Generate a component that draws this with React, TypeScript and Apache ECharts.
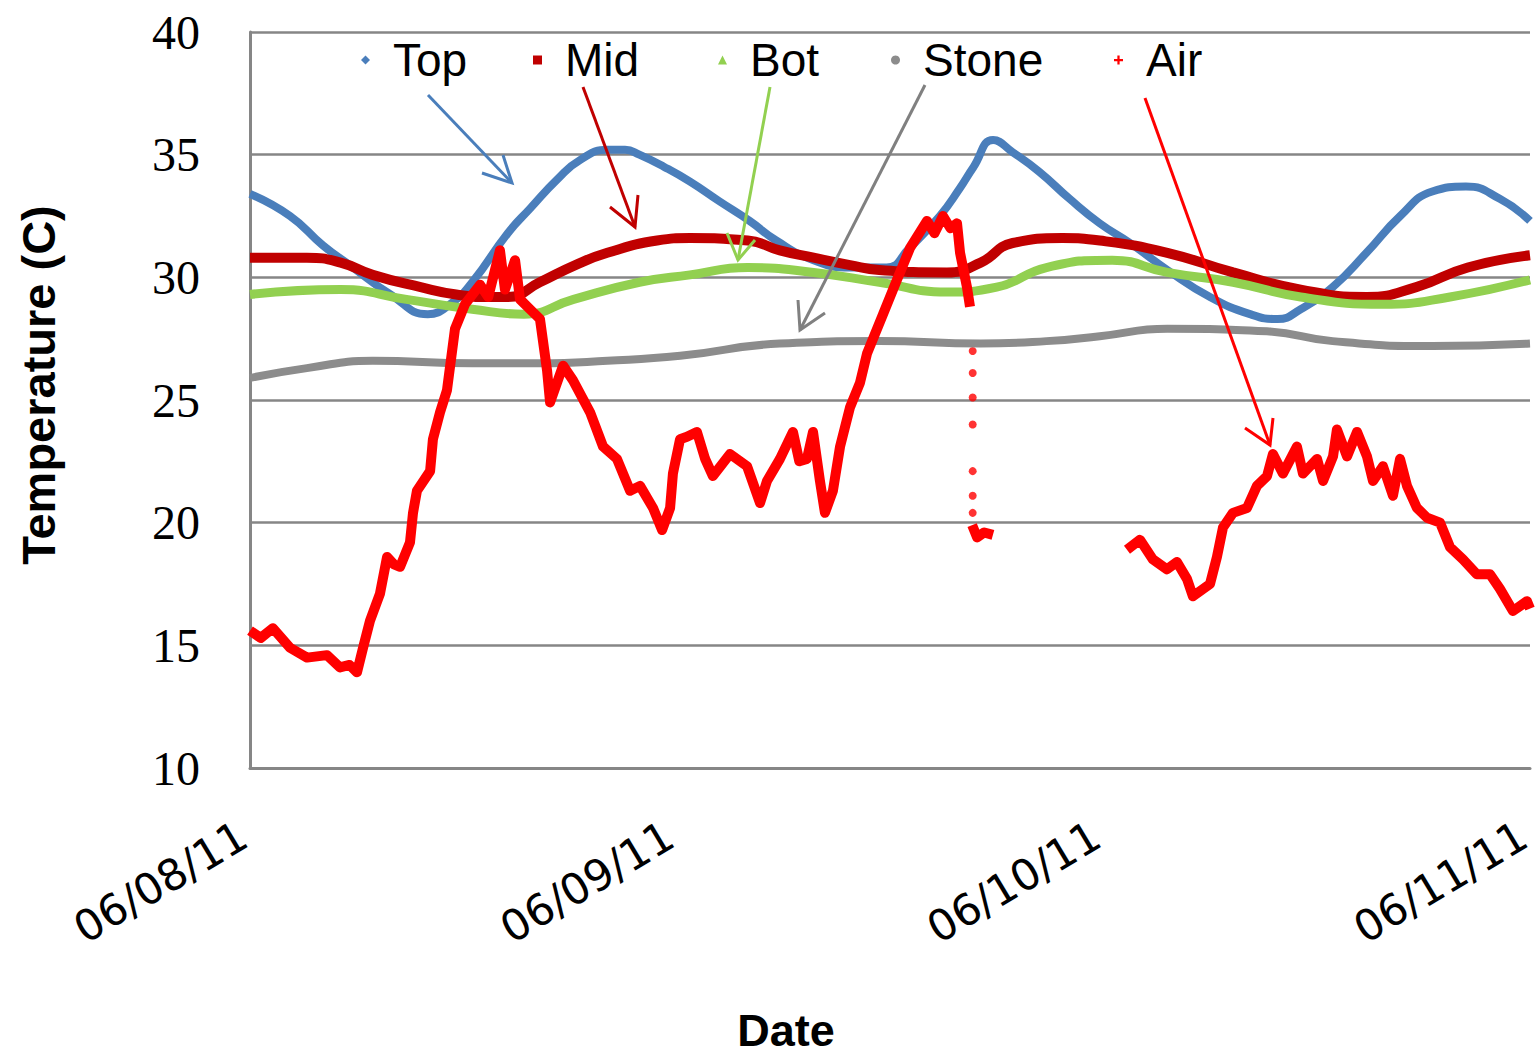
import React, { useEffect, useRef } from 'react';
import * as echarts from 'echarts';

// x values are hours since 06/08/11 00:00
const dateLabels = ['06/08/11', '06/09/11', '06/10/11', '06/11/11'];
const hoursPerDay = 24;

const topData: [number, number][] = [
  [0, 33.4], [2.25, 32.5], [4.1, 31.3], [5.6, 30.5], [7.9, 29.3], [10.0, 28.5], [11.25, 28.9],
  [12.5, 29.8], [14.5, 31.8], [15.75, 32.8], [17.3, 34.0], [18.6, 34.8], [20.1, 35.2], [21.1, 35.2],
  [21.9, 35.0], [23.3, 34.5], [24.75, 33.9], [26.4, 33.1], [28.1, 32.3], [29.6, 31.5], [31.7, 30.7],
  [33.75, 30.4], [35.8, 30.4], [37.1, 31.2], [38.8, 32.5], [39.9, 33.6], [40.7, 34.5], [41.8, 35.6],
  [42.9, 35.1], [44.4, 34.3], [46.1, 33.2], [47.8, 32.2], [49.5, 31.4], [51.6, 30.3], [54, 29.2],
  [56.25, 28.5], [57.8, 28.3], [59.1, 28.7], [60.9, 29.6], [62.8, 31.0], [64.7, 32.5], [66.5, 33.5],
  [68.4, 33.7], [70.3, 33.2], [72, 32.3],
];

const midData: [number, number][] = [
  [0, 30.8], [3.2, 30.8], [5.1, 30.6], [6.9, 30.1], [9.6, 29.6], [11.6, 29.3], [13.5, 29.2],
  [14.5, 29.2], [16.3, 29.8], [18.3, 30.5], [20.1, 31.0], [22.9, 31.5], [24.75, 31.6], [28, 31.5],
  [29.8, 31.1], [31.7, 30.8], [33.75, 30.5], [35.4, 30.3], [39.2, 30.2], [41.1, 30.6], [42.9, 31.4],
  [45.7, 31.6], [47.8, 31.5], [51.6, 31.0], [55.3, 30.2], [59.1, 29.5], [62.8, 29.2], [65.6, 29.6],
  [68.5, 30.4], [72, 30.9],
];

const botData: [number, number][] = [
  [0, 29.3], [5.1, 29.5], [8.8, 29.1], [12.5, 28.7], [15.4, 28.5], [18.2, 29.1], [21.9, 29.8],
  [24.75, 30.1], [28, 30.4], [31.7, 30.2], [35.4, 29.8], [39.2, 29.4], [42, 29.6], [44.8, 30.4],
  [48.5, 30.7], [51.6, 30.2], [55.3, 29.8], [59.1, 29.2], [63.7, 28.9], [67.5, 29.2], [72, 29.9],
];

const stoneData: [number, number][] = [
  [0, 25.9], [3.2, 26.3], [6.9, 26.6], [12.5, 26.5], [16.3, 26.5], [20.1, 26.6], [24.2, 26.8],
  [29.8, 27.3], [35.4, 27.4], [41.1, 27.3], [44.8, 27.4], [47.8, 27.6], [51.6, 27.9], [57.2, 27.8],
  [60.9, 27.4], [66.5, 27.2], [72, 27.3],
];

const airDay1: [number, number][] = [
  [0, 15.6], [0.6, 15.3], [1.29, 15.7], [2.25, 14.9], [3.21, 14.5], [4.33, 14.6], [5.06, 14.1],
  [5.6, 14.2], [6.02, 13.9], [6.36, 14.9], [6.75, 16.0], [7.31, 17.1], [7.71, 18.6], [8.1, 18.3],
  [8.44, 18.2], [9.0, 19.2], [9.17, 20.4], [9.39, 21.3], [10.13, 22.1], [10.29, 23.4], [10.69, 24.5],
  [11.08, 25.4], [11.53, 27.9], [12.09, 28.9], [12.94, 29.7], [13.4, 29.2], [13.78, 30.3],
  [14.06, 31.1], [14.34, 29.5], [14.91, 30.7], [15.19, 29.1], [15.75, 28.7], [16.31, 28.3],
  [16.71, 26.2], [16.88, 24.9], [17.61, 26.4], [18.17, 25.8], [19.13, 24.5], [19.86, 23.1],
  [20.64, 22.6], [21.38, 21.3], [21.94, 21.5], [22.67, 20.6], [23.18, 19.7], [23.63, 20.6],
  [23.79, 22.0], [24.19, 23.4], [24.58, 23.5], [25.14, 23.7], [25.6, 22.6], [26.04, 21.9],
  [27.0, 22.8], [27.96, 22.3], [28.69, 20.8], [29.08, 21.7], [29.81, 22.6], [30.54, 23.7],
  [30.9, 22.5], [31.33, 22.6], [31.67, 23.7], [32.06, 21.7], [32.34, 20.4], [32.79, 21.3],
  [33.19, 23.1], [33.75, 24.7], [34.31, 25.7], [34.71, 26.9], [35.61, 28.5], [36.39, 29.9],
  [37.13, 31.2], [38.08, 32.3], [38.5, 31.8], [38.98, 32.5], [39.4, 32.0], [39.77, 32.2],
  [39.94, 31.0], [40.33, 29.6], [40.5, 28.8],
];

const airDrop: [number, number][] = [
  [40.65, 27.0], [40.65, 26.1], [40.65, 25.1], [40.65, 24.0], [40.65, 22.1], [40.65, 21.1], [40.65, 20.4],
];

const airShort: [number, number][] = [
  [40.62, 19.9], [40.9, 19.4], [41.3, 19.6], [41.79, 19.5],
];

const airDay3: [number, number][] = [
  [49.33, 18.9], [50.06, 19.3], [50.79, 18.5], [51.58, 18.1], [52.14, 18.4], [52.71, 17.7],
  [53.04, 17.0], [54.0, 17.5], [54.39, 18.6], [54.73, 19.8], [55.29, 20.4], [56.08, 20.6],
  [56.64, 21.5], [57.21, 21.9], [57.54, 22.8], [58.1, 22.0], [58.89, 23.1], [59.23, 22.0],
  [60.02, 22.6], [60.36, 21.7], [60.92, 22.7], [61.14, 23.8], [61.71, 22.7], [62.27, 23.7],
  [62.83, 22.7], [63.17, 21.7], [63.73, 22.3], [64.29, 21.1], [64.69, 22.6], [65.08, 21.5],
  [65.64, 20.6], [66.21, 20.2], [66.94, 20.0], [67.5, 19.0], [68.23, 18.5], [69.0, 17.9],
  [69.75, 17.9], [70.31, 17.3], [71.04, 16.4], [71.83, 16.8], [72, 16.5],
];

const legendNames = ['Top', 'Mid', 'Bot', 'Stone', 'Air'];

const C_TOP = '#4A7EBB';
const C_MID = '#C00000';
const C_BOT = '#92D050';
const C_STONE = '#8C8C8C';
const C_AIR = '#FF0000';

const legendIcons = [
  'path://M3,0L6,3L3,6L0,3Z',
  'rect',
  'triangle',
  'circle',
  'path://M3,0h2v3h3v2h-3v3h-2v-3h-3v-2h3z',
];
const legendColors = [C_TOP, C_MID, C_BOT, C_STONE, C_AIR];
const legendLefts = [356, 528, 713, 886, 1109];

function arrow(color: string, from: number[], tip: number[], w1: number[], w2: number[]) {
  return {
    type: 'group',
    z: 10,
    children: [
      { type: 'line', z: 10, shape: { x1: from[0], y1: from[1], x2: tip[0], y2: tip[1] }, style: { stroke: color, lineWidth: 3 } },
      { type: 'polyline', z: 10, shape: { points: [w1, tip, w2] }, style: { stroke: color, lineWidth: 3, fill: null } },
    ],
  };
}

export default function App() {
  const ref = useRef<HTMLDivElement>(null);
  useEffect(() => {
    const chart = echarts.init(ref.current!, null, { renderer: 'svg' });
    const airLine = { color: C_AIR, width: 10, join: 'round' };
    chart.setOption({
      animation: false,
      backgroundColor: '#ffffff',
      grid: { left: 250, top: 32, right: 10, bottom: 293, containLabel: false, outerBoundsMode: 'none' },
      legend: legendNames.map((name, i) => ({
        left: legendLefts[i],
        top: 32,
        itemWidth: 9,
        itemHeight: 9,
        textStyle: { fontFamily: 'Liberation Sans', fontSize: 46, color: '#000', padding: [0, 0, 0, 18] },
        data: [{ name, icon: legendIcons[i], itemStyle: { color: legendColors[i] } }],
      })),
      xAxis: {
        type: 'value',
        min: 0,
        max: 3 * hoursPerDay,
        interval: hoursPerDay,
        name: 'Date',
        nameLocation: 'middle',
        nameGap: 240,
        nameTextStyle: { fontFamily: 'Liberation Sans', fontWeight: 'bold', fontSize: 45, color: '#000', padding: [0, 208, 0, 0] },
        axisLine: { show: true, lineStyle: { color: '#868686', width: 3 } },
        axisTick: { show: false },
        splitLine: { show: false },
        axisLabel: {
          rotate: 31,
          margin: 60,
          padding: [0, 8, 0, 0],
          showMinLabel: true,
          showMaxLabel: true,
          fontFamily: 'DejaVu Sans',
          fontSize: 43,
          color: '#000',
          formatter: (v: number) => dateLabels[Math.round(v / hoursPerDay)] ?? '',
        },
      },
      yAxis: {
        type: 'value',
        min: 10,
        max: 40,
        interval: 5,
        name: 'Temperature (C)',
        nameLocation: 'middle',
        nameGap: 188,
        nameTextStyle: { fontFamily: 'Liberation Sans', fontWeight: 'bold', fontSize: 47, color: '#000', padding: [0, 0, 0, 30] },
        axisLine: { show: true, lineStyle: { color: '#868686', width: 3 } },
        axisTick: { show: false },
        splitLine: { show: true, lineStyle: { color: '#868686', width: 2.5 } },
        axisLabel: { margin: 50, fontFamily: 'Liberation Serif', fontSize: 48, color: '#000' },
      },
      series: [
        { name: 'Top', type: 'line', data: topData, smooth: true, showSymbol: false, itemStyle: { color: C_TOP }, lineStyle: { color: C_TOP, width: 8 } },
        { name: 'Mid', type: 'line', data: midData, smooth: true, showSymbol: false, itemStyle: { color: C_MID }, lineStyle: { color: C_MID, width: 10 } },
        { name: 'Bot', type: 'line', data: botData, smooth: true, showSymbol: false, itemStyle: { color: C_BOT }, lineStyle: { color: C_BOT, width: 9 } },
        { name: 'Stone', type: 'line', data: stoneData, smooth: true, showSymbol: false, itemStyle: { color: C_STONE }, lineStyle: { color: C_STONE, width: 8 } },
        { name: 'Air', type: 'line', data: airDay1, showSymbol: false, itemStyle: { color: C_AIR }, lineStyle: airLine },
        { name: 'Air', type: 'scatter', data: airDrop, symbol: 'circle', symbolSize: 8, itemStyle: { color: C_AIR } },
        { name: 'Air', type: 'line', data: airShort, showSymbol: false, itemStyle: { color: C_AIR }, lineStyle: airLine },
        { name: 'Air', type: 'line', data: airDay3, showSymbol: false, itemStyle: { color: C_AIR }, lineStyle: airLine },
      ],
      graphic: [
        arrow(C_TOP, [428, 95], [512, 183], [482, 173], [503, 155]),
        arrow(C_MID, [583, 87], [635, 227], [610, 207], [638, 195]),
        arrow(C_BOT, [770, 87], [738, 260], [727, 233], [755, 240]),
        arrow('#808080', [925, 85], [800, 330], [798, 300], [825, 313]),
        arrow(C_AIR, [1145, 98], [1270, 445], [1245, 428], [1273, 418]),
      ],
    });
    return () => chart.dispose();
  }, []);
  return (
    <div
      ref={ref}
      style={{ position: 'fixed', left: 0, top: 0, width: 1540, height: 1061, background: '#fff' }}
    />
  );
}
